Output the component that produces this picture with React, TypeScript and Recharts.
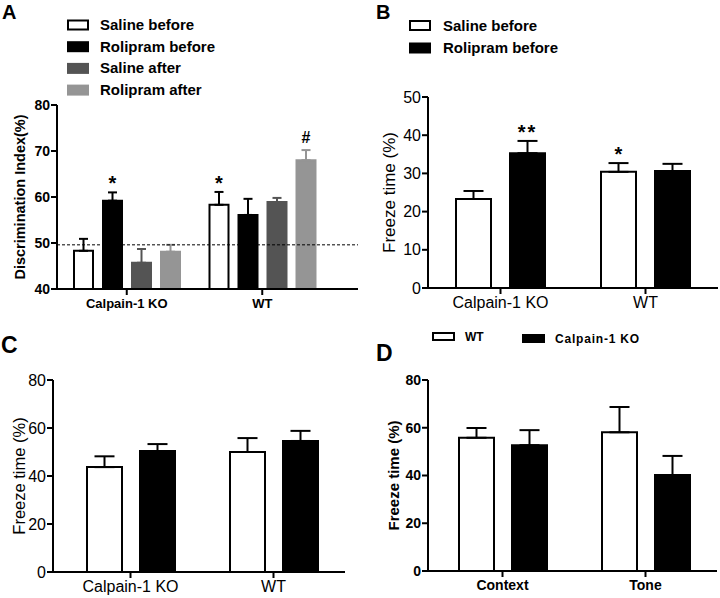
import React from 'react';
import { BarChart, Bar, XAxis, YAxis, ErrorBar, LabelList, ReferenceLine } from 'recharts';

const FONT = '"Liberation Sans", Arial, Helvetica, sans-serif';

// ---- Panel A: discrimination index ----
const groupsA = ['Calpain-1 KO', 'WT'];
const salineBeforeA = [48.3, 58.3];
const salineBeforeErrA = [2.6, 2.8];
const rolipramBeforeA = [59.2, 56.1];
const rolipramBeforeErrA = [1.8, 3.5];
const salineAfterA = [45.7, 58.9];
const salineAfterErrA = [3.0, 0.9];
const rolipramAfterA = [48.1, 68.0];
const rolipramAfterErrA = [1.5, 2.2];
const salineBeforeMarksA = ['', '*'];
const rolipramBeforeMarksA = ['*', ''];
const salineAfterMarksA = ['', ''];
const rolipramAfterMarksA = ['', '#'];
const chanceLevelA = 49.6;
const ticksA = [40, 50, 60, 70, 80];

// ---- Panel B: freeze time ----
const groupsB = ['Calpain-1 KO', 'WT'];
const salineBeforeB = [23.3, 30.4];
const salineBeforeErrB = [2.1, 2.3];
const rolipramBeforeB = [35.3, 30.6];
const rolipramBeforeErrB = [3.2, 1.9];
const salineBeforeMarksB = ['', '*'];
const rolipramBeforeMarksB = ['**', ''];
const ticksB = [0, 10, 20, 30, 40, 50];

// ---- Panel C ----
const groupsC = ['Calpain-1 KO', 'WT'];
const whiteC = [43.7, 50.0];
const whiteErrC = [4.5, 5.8];
const blackC = [50.4, 54.6];
const blackErrC = [2.9, 4.2];
const ticksC = [0, 20, 40, 60, 80];

// ---- Panel D ----
const groupsD = ['Context', 'Tone'];
const wtD = [55.8, 58.1];
const wtErrD = [4.1, 10.6];
const koD = [52.7, 40.2];
const koErrD = [6.3, 8.0];
const ticksD = [0, 20, 40, 60, 80];

const noMarks = ['', ''];

interface SeriesDef {
  name: string;
  values: number[];
  errors: number[];
  marks: string[];
  fill: string;
  stroke: string;
}

const seriesA: SeriesDef[] = [
  { name: 'Saline before', values: salineBeforeA, errors: salineBeforeErrA, marks: salineBeforeMarksA, fill: '#ffffff', stroke: '#000000' },
  { name: 'Rolipram before', values: rolipramBeforeA, errors: rolipramBeforeErrA, marks: rolipramBeforeMarksA, fill: '#000000', stroke: '#000000' },
  { name: 'Saline after', values: salineAfterA, errors: salineAfterErrA, marks: salineAfterMarksA, fill: '#545454', stroke: '#545454' },
  { name: 'Rolipram after', values: rolipramAfterA, errors: rolipramAfterErrA, marks: rolipramAfterMarksA, fill: '#959595', stroke: '#959595' },
];

const seriesB: SeriesDef[] = [
  { name: 'Saline before', values: salineBeforeB, errors: salineBeforeErrB, marks: salineBeforeMarksB, fill: '#ffffff', stroke: '#000000' },
  { name: 'Rolipram before', values: rolipramBeforeB, errors: rolipramBeforeErrB, marks: rolipramBeforeMarksB, fill: '#000000', stroke: '#000000' },
];

const seriesC: SeriesDef[] = [
  { name: 'Saline', values: whiteC, errors: whiteErrC, marks: noMarks, fill: '#ffffff', stroke: '#000000' },
  { name: 'Rolipram', values: blackC, errors: blackErrC, marks: noMarks, fill: '#000000', stroke: '#000000' },
];

const seriesD: SeriesDef[] = [
  { name: 'WT', values: wtD, errors: wtErrD, marks: noMarks, fill: '#ffffff', stroke: '#000000' },
  { name: 'Calpain-1 KO', values: koD, errors: koErrD, marks: noMarks, fill: '#000000', stroke: '#000000' },
];

interface PanelProps {
  groups: string[];
  series: SeriesDef[];
  left: number;
  top: number;
  width: number;
  height: number;
  plotTop: number;
  plotRight: number;
  yAxisWidth: number;
  xAxisHeight: number;
  domain: [number, number];
  ticks: number[];
  padLeft: number;
  padRight: number;
  barSize: number;
  barGap: number;
  capHalf: number;
  tickFont: React.CSSProperties;
  xFont: React.CSSProperties;
  xTickMargin: number;
  yLabel: string;
  yLabelFont: React.CSSProperties;
  yLabelX: number;
  refY?: number;
}

const yLabelContent = (text: string, cx: number, font: React.CSSProperties) => (props: any) => {
  const vb = props.viewBox;
  const cy = vb.y + vb.height / 2;
  return (
    <text x={cx} y={cy} transform={`rotate(-90, ${cx}, ${cy})`} textAnchor="middle"
      dominantBaseline="central" fill="#000" style={font}>
      {text}
    </text>
  );
};

const Panel: React.FC<PanelProps> = (p) => {
  const data = p.groups.map((g, i) => {
    const row: any = { group: g };
    p.series.forEach((s, j) => {
      row['v' + j] = s.values[i];
      row['e' + j] = [0, s.errors[i]];
      row['m' + j] = s.marks[i];
    });
    return row;
  });
  const pxPerUnit = (p.height - p.plotTop - p.xAxisHeight) / (p.domain[1] - p.domain[0]);

  // significance marks sit just above the error-bar cap
  const markContent = (j: number) => (props: any) => {
    const value = props.value;
    if (!value) return null;
    const idx = props.index ?? 0;
    const vb = props.viewBox ?? props;
    const cx = vb.x + vb.width / 2;
    const capY = vb.y - p.series[j].errors[idx] * pxPerUnit;
    const hash = value === '#';
    return (
      <text x={cx} y={capY - (hash ? 7 : 2)} textAnchor="middle" fill="#000"
        style={{ fontFamily: FONT, fontWeight: 'bold', fontSize: hash ? 16 : 20, letterSpacing: value.length > 1 ? 2 : 0 }}>
        {value}
      </text>
    );
  };

  return (
    <div style={{ position: 'absolute', left: p.left, top: p.top }}>
      <BarChart width={p.width} height={p.height} data={data} barSize={p.barSize} barGap={p.barGap}
        margin={{ top: p.plotTop, right: p.plotRight, bottom: 0, left: 0 }}>
        <XAxis dataKey="group" interval={0} height={p.xAxisHeight} padding={{ left: p.padLeft, right: p.padRight }}
          axisLine={{ stroke: '#000', strokeWidth: 2 }} tickLine={{ stroke: '#000', strokeWidth: 2 }} tickSize={6}
          tickMargin={p.xTickMargin} tick={{ fill: '#000', ...p.xFont }} />
        <YAxis domain={p.domain} ticks={p.ticks} width={p.yAxisWidth} interval={0}
          axisLine={{ stroke: '#000', strokeWidth: 2 }} tickLine={{ stroke: '#000', strokeWidth: 2 }} tickSize={6}
          tickMargin={1} tick={{ fill: '#000', ...p.tickFont }}
          label={yLabelContent(p.yLabel, p.yLabelX, p.yLabelFont)} />
        {p.series.map((s, j) => (
          <Bar key={s.name} dataKey={'v' + j} name={s.name} fill={s.fill} stroke={s.stroke} strokeWidth={2}
            isAnimationActive={false}>
            <ErrorBar dataKey={'e' + j} width={p.capHalf} stroke={s.stroke} strokeWidth={2} direction="y" />
            <LabelList dataKey={'m' + j} content={markContent(j)} />
          </Bar>
        ))}
        {p.refY !== undefined && (
          <ReferenceLine y={p.refY} stroke="#000" strokeWidth={1} strokeDasharray="3 2" />
        )}
      </BarChart>
    </div>
  );
};

const letterStyle: React.CSSProperties = { fontFamily: FONT, fontWeight: 'bold' };
const legendText: React.CSSProperties = { fontFamily: FONT, fontWeight: 'bold', fontSize: 15 };

const Overlay: React.FC = () => (
  <svg width={720} height={598} style={{ position: 'absolute', left: 0, top: 0, pointerEvents: 'none' }}>
    <text x={2} y={18.5} style={{ ...letterStyle, fontSize: 20 }}>A</text>
    <text x={376} y={18.5} style={{ ...letterStyle, fontSize: 20 }}>B</text>
    <text x={1} y={353} style={{ ...letterStyle, fontSize: 23 }}>C</text>
    <text x={376} y={361} style={{ ...letterStyle, fontSize: 23 }}>D</text>

    {seriesA.map((s, i) => (
      <g key={s.name}>
        <rect x={68} y={20.5 + i * 21.7} width={20} height={9} fill={s.fill} stroke={s.stroke} strokeWidth={2} />
        <text x={100} y={30 + i * 21.7} style={legendText}>{s.name}</text>
      </g>
    ))}

    {seriesB.map((s, i) => (
      <g key={s.name}>
        <rect x={410} y={21 + i * 22.5} width={20} height={9} fill={s.fill} stroke={s.stroke} strokeWidth={2} />
        <text x={443} y={30.5 + i * 22.5} style={legendText}>{s.name}</text>
      </g>
    ))}

    <rect x={433} y={333} width={21} height={7} fill={seriesD[0].fill} stroke={seriesD[0].stroke} strokeWidth={2} />
    <text x={465} y={341} style={{ fontFamily: FONT, fontWeight: 'bold', fontSize: 12 }}>{seriesD[0].name}</text>
    <rect x={522} y={334} width={23} height={9} fill={seriesD[1].fill} stroke={seriesD[1].stroke} strokeWidth={0} />
    <text x={555} y={343} style={{ fontFamily: FONT, fontWeight: 'bold', fontSize: 12, letterSpacing: 0.8 }}>{seriesD[1].name}</text>
  </svg>
);

const App: React.FC = () => {
  return (
    <div style={{ position: 'absolute', left: 0, top: 0, width: 720, height: 598, background: '#fff', overflow: 'hidden' }}>
      <Panel groups={groupsA} series={seriesA} left={0} top={0} width={360} height={320}
        plotTop={105} plotRight={2} yAxisWidth={57} xAxisHeight={31} domain={[40, 80]} ticks={ticksA}
        padLeft={2} padRight={28} barSize={19} barGap={10} capHalf={4.5}
        tickFont={{ fontFamily: FONT, fontWeight: 'bold', fontSize: 14 }}
        xFont={{ fontFamily: FONT, fontWeight: 'bold', fontSize: 13 }} xTickMargin={4}
        yLabel="Discrimination Index(%)" yLabelFont={{ fontFamily: FONT, fontWeight: 'bold', fontSize: 14.5 }} yLabelX={20}
        refY={chanceLevelA} />
      <Panel groups={groupsB} series={seriesB} left={360} top={0} width={360} height={320}
        plotTop={97} plotRight={2} yAxisWidth={68} xAxisHeight={32} domain={[0, 50]} ticks={ticksB}
        padLeft={0} padRight={0} barSize={35} barGap={19} capHalf={10}
        tickFont={{ fontFamily: FONT, fontSize: 16 }}
        xFont={{ fontFamily: FONT, fontSize: 16 }} xTickMargin={3}
        yLabel="Freeze time (%)" yLabelFont={{ fontFamily: FONT, fontSize: 17 }} yLabelX={29} />
      <Panel groups={groupsC} series={seriesC} left={0} top={300} width={360} height={298}
        plotTop={80} plotRight={15} yAxisWidth={53} xAxisHeight={26} domain={[0, 80]} ticks={ticksC}
        padLeft={6} padRight={0} barSize={35} barGap={18} capHalf={10}
        tickFont={{ fontFamily: FONT, fontSize: 16 }}
        xFont={{ fontFamily: FONT, fontSize: 16 }} xTickMargin={3}
        yLabel="Freeze time (%)" yLabelFont={{ fontFamily: FONT, fontSize: 16.5 }} yLabelX={19} />
      <Panel groups={groupsD} series={seriesD} left={360} top={300} width={360} height={298}
        plotTop={80} plotRight={3} yAxisWidth={68} xAxisHeight={27} domain={[0, 80]} ticks={ticksD}
        padLeft={3} padRight={0} barSize={35} barGap={18} capHalf={10}
        tickFont={{ fontFamily: FONT, fontWeight: 'bold', fontSize: 14 }}
        xFont={{ fontFamily: FONT, fontWeight: 'bold', fontSize: 14 }} xTickMargin={3}
        yLabel="Freeze time (%)" yLabelFont={{ fontFamily: FONT, fontWeight: 'bold', fontSize: 15 }} yLabelX={33} />
      <Overlay />
    </div>
  );
};

export default App;
